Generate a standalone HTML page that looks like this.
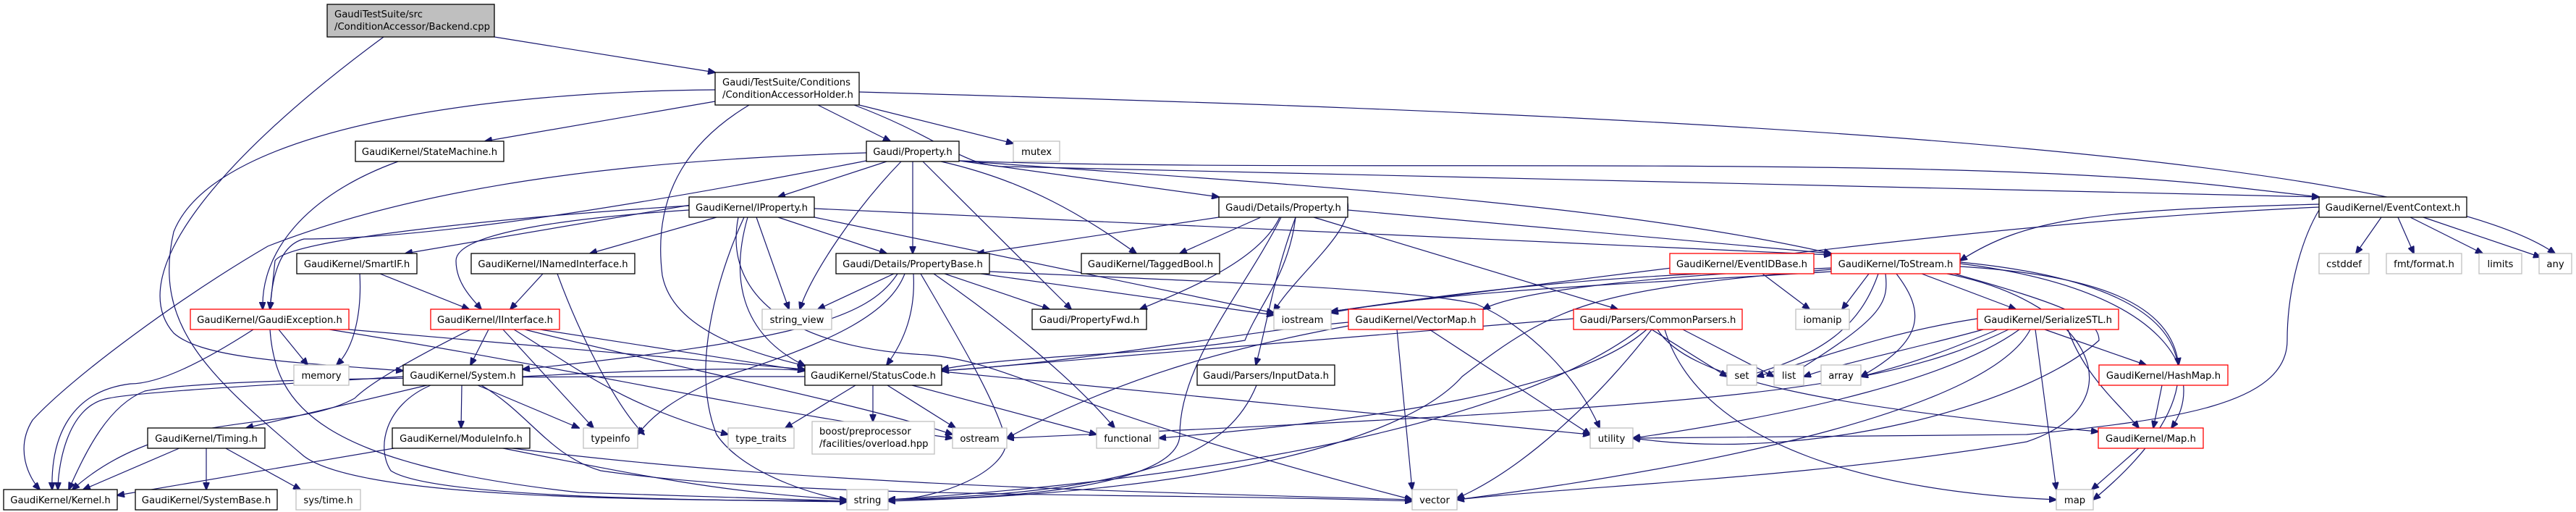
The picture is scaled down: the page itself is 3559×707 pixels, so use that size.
<!DOCTYPE html>
<html><head><meta charset="utf-8"><style>
html,body{margin:0;padding:0;background:#fff;}
svg{display:block;}
text{font-family:"DejaVu Sans","Liberation Sans",sans-serif;font-size:13.2px;fill:#000;}
.n rect{fill:#fff;stroke:#000;stroke-width:1.3;}
.r rect{fill:#fff;stroke:#ff0000;stroke-width:1.3;}
.g rect{fill:#fff;stroke:#bfbfbf;stroke-width:1.3;}
path{fill:none;stroke:#191970;stroke-width:1.2;}
</style></head><body>
<svg width="3559" height="707" viewBox="0 0 3559 707" xmlns="http://www.w3.org/2000/svg">
<defs><marker id="a" markerWidth="11" markerHeight="9" refX="10" refY="4.5" orient="auto" markerUnits="userSpaceOnUse"><polygon points="0,0 11,4.5 0,9" fill="#191970" stroke="#191970"/></marker></defs>
<g marker-end="url(#a)">
<path d="M683,51 L988,100"/>
<path d="M530,51 C300,220 170,380 240,460 C280,495 400,500 557,512"/>
<path d="M988,140 L670,195"/>
<path d="M988,124 C700,126 300,170 240,320 C210,450 290,520 420,630 C500,690 900,690 1170,692"/>
<path d="M1035,145 C960,190 900,260 915,380 C930,460 1050,490 1112,505"/>
<path d="M1130,145 L1230,195"/>
<path d="M1187,145 L1400,198"/>
<path d="M1187,127 C2000,150 3300,190 3530,350"/>
<path d="M1180,145 C1300,190 1330,230 1390,230 L3204,272"/>
<path d="M1225,223 L1075,272"/>
<path d="M1245,223 C1180,290 1120,380 1105,427"/>
<path d="M1261,223 L1261,350"/>
<path d="M1275,223 L1480,427"/>
<path d="M1300,223 C1420,250 1500,300 1570,350"/>
<path d="M1325,222 L1684,272"/>
<path d="M1325,222 C1700,250 2200,275 2530,350"/>
<path d="M1325,222 C1800,240 2700,210 3100,260 L3204,272"/>
<path d="M1197,211 C900,220 600,250 370,340 C250,410 100,520 45,580 C20,620 40,660 55,676"/>
<path d="M1197,222 C900,280 600,330 420,330 C380,340 375,400 373,427"/>
<path d="M960,282 L560,350"/>
<path d="M990,300 L815,350"/>
<path d="M952,290 C800,300 630,320 630,360 C630,390 650,410 665,427"/>
<path d="M952,284 C700,300 400,330 380,360 L373,427"/>
<path d="M1045,300 L1090,427"/>
<path d="M1075,300 L1225,350"/>
<path d="M1028,300 C1000,360 950,500 990,600 C1030,660 1150,690 1170,690"/>
<path d="M1033,300 C1010,380 1020,460 1112,505"/>
<path d="M1125,300 L1760,432"/>
<path d="M1125,288 L2530,352"/>
<path d="M1020,300 C1000,400 1080,480 1280,490 C1400,500 1450,560 1951,690"/>
<path d="M1684,300 L1350,350"/>
<path d="M1742,300 L1630,350"/>
<path d="M1768,300 C1740,360 1640,400 1575,427"/>
<path d="M1770,300 C1720,400 1630,500 1630,600 C1630,670 1400,690 1227,690"/>
<path d="M1790,300 C1760,380 1750,450 1735,504"/>
<path d="M1815,300 L2235,427"/>
<path d="M1862,290 L2530,350"/>
<path d="M1862,280 C1870,320 1790,380 1760,430"/>
<path d="M1790,300 C1780,380 1740,420 1720,470 C1600,490 1400,490 1301,510"/>
<path d="M1235,378 L1130,427"/>
<path d="M1240,378 C1200,440 1100,470 722,510"/>
<path d="M1262,378 C1265,430 1250,470 1225,504"/>
<path d="M1272,378 C1320,460 1380,560 1390,610 C1390,650 1300,690 1227,690"/>
<path d="M1305,378 L1450,427"/>
<path d="M1290,378 C1380,440 1480,520 1540,591"/>
<path d="M1355,378 L1760,435"/>
<path d="M1367,375 C1700,390 1960,400 2040,420 C2110,450 2180,520 2210,591"/>
<path d="M1250,378 C1230,430 1160,470 1000,520 C930,550 900,575 881,600"/>
<path d="M350,455 C280,500 220,530 180,530 C100,540 70,600 72,676"/>
<path d="M373,455 C380,560 440,640 800,680 L1170,692"/>
<path d="M385,455 L425,504"/>
<path d="M482,455 L1112,510"/>
<path d="M455,455 C800,510 1000,560 1316,605"/>
<path d="M550,223 C420,270 360,350 363,427"/>
<path d="M497,378 C500,430 490,480 465,504"/>
<path d="M525,378 L648,427"/>
<path d="M750,378 L705,427"/>
<path d="M770,378 C800,460 850,560 890,600"/>
<path d="M675,455 L650,504"/>
<path d="M650,455 C560,500 510,530 490,550 C400,600 230,560 100,676"/>
<path d="M695,455 L820,591"/>
<path d="M710,455 C800,510 860,560 1006,600"/>
<path d="M746,455 L1112,512"/>
<path d="M725,455 C900,500 1200,560 1316,600"/>
<path d="M557,520 C400,530 200,540 150,550 C90,560 80,650 80,676"/>
<path d="M590,532 L340,591"/>
<path d="M638,532 L637,591"/>
<path d="M660,532 L800,591"/>
<path d="M595,532 C530,560 520,620 540,650 C600,690 1000,690 1170,693"/>
<path d="M665,532 C730,570 760,630 830,650 C1100,690 1600,680 1951,692"/>
<path d="M722,520 C1000,505 1100,510 1112,512"/>
<path d="M250,618 L115,676"/>
<path d="M285,618 L285,676"/>
<path d="M310,618 L415,676"/>
<path d="M550,618 L162,684"/>
<path d="M690,618 C900,660 1000,680 1170,690"/>
<path d="M700,618 C1100,670 1600,680 1951,690"/>
<path d="M1182,532 L1085,591"/>
<path d="M1206,532 L1206,582"/>
<path d="M1226,532 L1320,591"/>
<path d="M1260,532 L1515,600"/>
<path d="M1301,513 L2197,600"/>
<path d="M1112,520 C700,520 300,520 200,540 C150,560 120,620 95,676"/>
<path d="M1736,532 C1700,620 1600,680 1227,690"/>
<path d="M1930,455 L1951,676"/>
<path d="M1975,455 L2197,600"/>
<path d="M1863,445 C1700,460 1500,500 1301,512"/>
<path d="M1863,450 C1700,480 1550,520 1391,605"/>
<path d="M2174,440 C1900,460 1600,490 1301,512"/>
<path d="M2282,455 L2386,520"/>
<path d="M2325,455 L2451,520"/>
<path d="M2282,455 C2200,560 2100,650 2013,688"/>
<path d="M2265,455 C2100,580 1700,660 1227,690"/>
<path d="M2290,455 C2330,520 2500,560 2899,596"/>
<path d="M2300,455 C2350,620 2600,680 2841,690"/>
<path d="M2275,455 C2180,540 1900,580 1601,605"/>
<path d="M2350,378 C2100,390 1950,415 1839,430"/>
<path d="M2435,378 L2500,427"/>
<path d="M2582,378 L2545,427"/>
<path d="M2595,378 C2570,450 2520,490 2410,520"/>
<path d="M2605,378 C2610,420 2600,440 2470,520"/>
<path d="M2620,378 C2660,430 2660,470 2571,520"/>
<path d="M2655,378 L2785,427"/>
<path d="M2530,370 C2300,380 2100,400 2049,427"/>
<path d="M2530,375 C2300,390 2000,400 1839,432"/>
<path d="M2530,372 C2200,400 2150,420 2020,520 C1950,600 1700,680 1227,692"/>
<path d="M2708,368 C2900,380 3000,420 3010,504"/>
<path d="M2708,364 C3000,400 3050,520 3000,591"/>
<path d="M2708,362 C3100,400 3050,560 2892,690"/>
<path d="M2700,378 C2850,420 2900,440 2900,470 C2800,560 2500,640 2256,605"/>
<path d="M2690,378 C2900,420 2950,560 2800,610 C2500,660 2200,670 2013,690"/>
<path d="M2732,440 C2600,460 2500,500 2427,520"/>
<path d="M2740,455 C2650,480 2550,500 2492,520"/>
<path d="M2760,455 C2700,480 2650,500 2571,520"/>
<path d="M2812,455 L2841,676"/>
<path d="M2857,455 C2880,520 2930,560 2955,591"/>
<path d="M2825,455 L2965,504"/>
<path d="M2790,455 C2700,520 2500,570 2256,605"/>
<path d="M2805,455 C2750,560 2400,640 2013,690"/>
<path d="M2775,455 C2600,540 2400,560 1391,605"/>
<path d="M2987,532 L2975,591"/>
<path d="M2956,618 L2890,676"/>
<path d="M3290,300 L3255,350"/>
<path d="M3313,300 L3335,350"/>
<path d="M3330,300 L3430,350"/>
<path d="M3348,300 L3510,355"/>
<path d="M3204,282 C2900,290 2800,300 2708,360"/>
<path d="M3204,286 C2900,300 2600,330 1839,430"/>
<path d="M3204,290 C3180,330 3160,400 3160,470 C3160,560 3000,580 2800,600 L2256,605"/>
</g>
<g class="g"><rect x="452" y="6" width="231" height="45" style="fill:#bfbfbf;stroke:#000"/></g>
<text x="462" y="24">GaudiTestSuite/src</text><text x="462" y="41">/ConditionAccessor/Backend.cpp</text>
<g class="n"><rect x="988" y="100" width="199" height="45"/></g>
<text x="998" y="118">Gaudi/TestSuite/Conditions</text><text x="998" y="135">/ConditionAccessorHolder.h</text>
<g class="g"><rect x="1122" y="582" width="169" height="45"/></g>
<text x="1132" y="600">boost/preprocessor</text><text x="1132" y="617">/facilities/overload.hpp</text>
<g text-anchor="middle">
<g class="n"><rect x="491" y="195" width="205" height="28"/><text x="593.5" y="214">GaudiKernel/StateMachine.h</text></g>
<g class="n"><rect x="1197" y="195" width="128" height="28"/><text x="1261" y="214">Gaudi/Property.h</text></g>
<g class="g"><rect x="1400" y="195" width="64" height="28"/><text x="1432" y="214">mutex</text></g>
<g class="n"><rect x="952" y="272" width="173" height="28"/><text x="1038.5" y="291">GaudiKernel/IProperty.h</text></g>
<g class="n"><rect x="1684" y="272" width="178" height="28"/><text x="1773" y="291">Gaudi/Details/Property.h</text></g>
<g class="n"><rect x="3204" y="272" width="204" height="28"/><text x="3306" y="291">GaudiKernel/EventContext.h</text></g>
<g class="n"><rect x="410" y="350" width="166" height="28"/><text x="493" y="369">GaudiKernel/SmartIF.h</text></g>
<g class="n"><rect x="651" y="350" width="226" height="28"/><text x="764" y="369">GaudiKernel/INamedInterface.h</text></g>
<g class="n"><rect x="1155" y="350" width="212" height="28"/><text x="1261" y="369">Gaudi/Details/PropertyBase.h</text></g>
<g class="n"><rect x="1494" y="350" width="191" height="28"/><text x="1589.5" y="369">GaudiKernel/TaggedBool.h</text></g>
<g class="r"><rect x="2307" y="350" width="199" height="28"/><text x="2406.5" y="369">GaudiKernel/EventIDBase.h</text></g>
<g class="r"><rect x="2530" y="350" width="178" height="28"/><text x="2619" y="369">GaudiKernel/ToStream.h</text></g>
<g class="g"><rect x="3204" y="350" width="69" height="28"/><text x="3238.5" y="369">cstddef</text></g>
<g class="g"><rect x="3297" y="350" width="104" height="28"/><text x="3349" y="369">fmt/format.h</text></g>
<g class="g"><rect x="3425" y="350" width="59" height="28"/><text x="3454.5" y="369">limits</text></g>
<g class="g"><rect x="3508" y="350" width="45" height="28"/><text x="3530.5" y="369">any</text></g>
<g class="r"><rect x="263" y="427" width="219" height="28"/><text x="372.5" y="446">GaudiKernel/GaudiException.h</text></g>
<g class="r"><rect x="595" y="427" width="178" height="28"/><text x="684" y="446">GaudiKernel/IInterface.h</text></g>
<g class="g"><rect x="1053" y="427" width="96" height="28"/><text x="1101" y="446">string_view</text></g>
<g class="n"><rect x="1426" y="427" width="158" height="28"/><text x="1505" y="446">Gaudi/PropertyFwd.h</text></g>
<g class="g"><rect x="1760" y="427" width="79" height="28"/><text x="1799.5" y="446">iostream</text></g>
<g class="r"><rect x="1863" y="427" width="186" height="28"/><text x="1956" y="446">GaudiKernel/VectorMap.h</text></g>
<g class="r"><rect x="2174" y="427" width="233" height="28"/><text x="2290.5" y="446">Gaudi/Parsers/CommonParsers.h</text></g>
<g class="g"><rect x="2481" y="427" width="74" height="28"/><text x="2518" y="446">iomanip</text></g>
<g class="r"><rect x="2732" y="427" width="195" height="28"/><text x="2829.5" y="446">GaudiKernel/SerializeSTL.h</text></g>
<g class="g"><rect x="406" y="504" width="76" height="28"/><text x="444" y="523">memory</text></g>
<g class="n"><rect x="557" y="504" width="165" height="28"/><text x="639.5" y="523">GaudiKernel/System.h</text></g>
<g class="n"><rect x="1112" y="504" width="189" height="28"/><text x="1206.5" y="523">GaudiKernel/StatusCode.h</text></g>
<g class="n"><rect x="1654" y="504" width="190" height="28"/><text x="1749" y="523">Gaudi/Parsers/InputData.h</text></g>
<g class="g"><rect x="2386" y="504" width="41" height="28"/><text x="2406.5" y="523">set</text></g>
<g class="g"><rect x="2451" y="504" width="41" height="28"/><text x="2471.5" y="523">list</text></g>
<g class="g"><rect x="2516" y="504" width="55" height="28"/><text x="2543.5" y="523">array</text></g>
<g class="r"><rect x="2900" y="504" width="178" height="28"/><text x="2989" y="523">GaudiKernel/HashMap.h</text></g>
<g class="n"><rect x="204" y="591" width="162" height="28"/><text x="285" y="610">GaudiKernel/Timing.h</text></g>
<g class="n"><rect x="542" y="591" width="190" height="28"/><text x="637" y="610">GaudiKernel/ModuleInfo.h</text></g>
<g class="g"><rect x="806" y="591" width="75" height="28"/><text x="843.5" y="610">typeinfo</text></g>
<g class="g"><rect x="1006" y="591" width="91" height="28"/><text x="1051.5" y="610">type_traits</text></g>
<g class="g"><rect x="1316" y="591" width="75" height="28"/><text x="1353.5" y="610">ostream</text></g>
<g class="g"><rect x="1515" y="591" width="86" height="28"/><text x="1558" y="610">functional</text></g>
<g class="g"><rect x="2197" y="591" width="59" height="28"/><text x="2226.5" y="610">utility</text></g>
<g class="r"><rect x="2899" y="591" width="145" height="28"/><text x="2971.5" y="610">GaudiKernel/Map.h</text></g>
<g class="n"><rect x="5" y="676" width="157" height="28"/><text x="83.5" y="695">GaudiKernel/Kernel.h</text></g>
<g class="n"><rect x="187" y="676" width="196" height="28"/><text x="285" y="695">GaudiKernel/SystemBase.h</text></g>
<g class="g"><rect x="409" y="676" width="89" height="28"/><text x="453.5" y="695">sys/time.h</text></g>
<g class="g"><rect x="1170" y="676" width="57" height="28"/><text x="1198.5" y="695">string</text></g>
<g class="g"><rect x="1951" y="676" width="62" height="28"/><text x="1982" y="695">vector</text></g>
<g class="g"><rect x="2841" y="676" width="51" height="28"/><text x="2866.5" y="695">map</text></g>
</g>
</svg>
</body></html>
